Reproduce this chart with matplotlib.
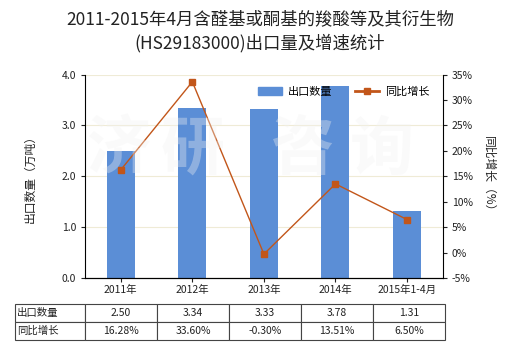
import matplotlib
matplotlib.use("Agg")
import matplotlib.pyplot as plt
from matplotlib.patches import Patch
from matplotlib.lines import Line2D

plt.rcParams['font.family'] = ['Noto Sans CJK SC', 'DejaVu Sans']

# data
years = ["2011年", "2012年", "2013年", "2014年", "2015年1-4月"]
export_qty = [2.50, 3.34, 3.33, 3.78, 1.31]          # 万吨
yoy_growth = [16.28, 33.60, -0.30, 13.51, 6.50]      # %
qty_labels = ["2.50", "3.34", "3.33", "3.78", "1.31"]
growth_labels = ["16.28%", "33.60%", "-0.30%", "13.51%", "6.50%"]

bar_color = "#5B8ED6"
line_color = "#C2561A"
text_color = "#222222"

fig = plt.figure(figsize=(5.2, 3.5), dpi=100)
ax = fig.add_axes([0.1635, 0.2057, 0.688, 0.581])
ax2 = ax.twinx()

x = list(range(len(years)))
ax.bar(x, export_qty, width=0.39, color=bar_color, zorder=2)
ax.set_xlim(-0.5, len(years) - 0.5)
ax.set_ylim(0, 4.0)
ax.set_yticks([0, 1, 2, 3, 4])
ax.set_yticklabels(["0.0", "1.0", "2.0", "3.0", "4.0"])
ax.set_xticks(x)
ax.set_xticklabels(years)
ax.grid(axis="y", color="#EFEBD6", linewidth=0.8, zorder=0)
ax.set_axisbelow(True)

ax2.plot(x, yoy_growth, color=line_color, linewidth=1.0, marker="s",
         markersize=5, markerfacecolor=line_color, markeredgecolor=line_color,
         zorder=3)
ax2.set_ylim(-5, 35)
ax2.set_yticks(range(-5, 40, 5))
ax2.set_yticklabels([f"{v}%" for v in range(-5, 40, 5)])

for a in (ax, ax2):
    a.spines["top"].set_visible(False)
    a.tick_params(labelsize=7.5, colors=text_color, length=3, width=0.8)
ax2.spines["left"].set_visible(False)
ax.spines["right"].set_visible(False)
ax.tick_params(axis="x", length=3, pad=2)

ax.set_ylabel("出口数量（万吨）", fontsize=8.5, color=text_color, labelpad=18)
ax2.set_ylabel("同比增长（%）", fontsize=8.5, color=text_color, rotation=270,
               labelpad=16)

# legend
handles = [Patch(color=bar_color),
           Line2D([0], [0], color=line_color, marker="s", markersize=4, linewidth=2)]
ax2.legend(handles, ["出口数量", "同比增长"], loc="upper right",
           bbox_to_anchor=(0.99, 0.99), ncol=2, frameon=False, fontsize=8,
           handlelength=2.2, handletextpad=0.5, columnspacing=2.0)

# watermark
for cx, ch in zip([0.095, 0.30, 0.61, 0.83], "济研咨询"):
    ax2.text(cx, 0.63, ch, transform=ax.transAxes, fontsize=46,
             fontweight="bold", color="#F2F2F2", alpha=0.35,
             ha="center", va="center", zorder=5)

fig.suptitle("2011-2015年4月含醛基或酮基的羧酸等及其衍生物\n(HS29183000)出口量及增速统计",
             x=0.5, y=0.97, fontsize=12.5, color=text_color, linespacing=1.35)

# data table below the axes
cells = [["出口数量"] + qty_labels, ["同比增长"] + growth_labels]
ax_w = 0.688 * 520
ax_h = 0.581 * 350
tbl = ax.table(cellText=cells, cellLoc="center",
               colWidths=[70] + [72] * 5,
               bbox=[(15 - 85) / ax_w, (278 - 340) / ax_h, 430 / ax_w, 36 / ax_h])
tbl.auto_set_font_size(False)
tbl.set_fontsize(7.5)
for (r, c), cell in tbl.get_celld().items():
    cell.set_edgecolor("#444444")
    cell.set_linewidth(0.8)
    cell.get_text().set_color(text_color)
    if c == 0:
        cell.get_text().set_ha("left")
        cell._loc = "left"
        cell.PAD = 0.03

fig.savefig("out.png", dpi=100)
